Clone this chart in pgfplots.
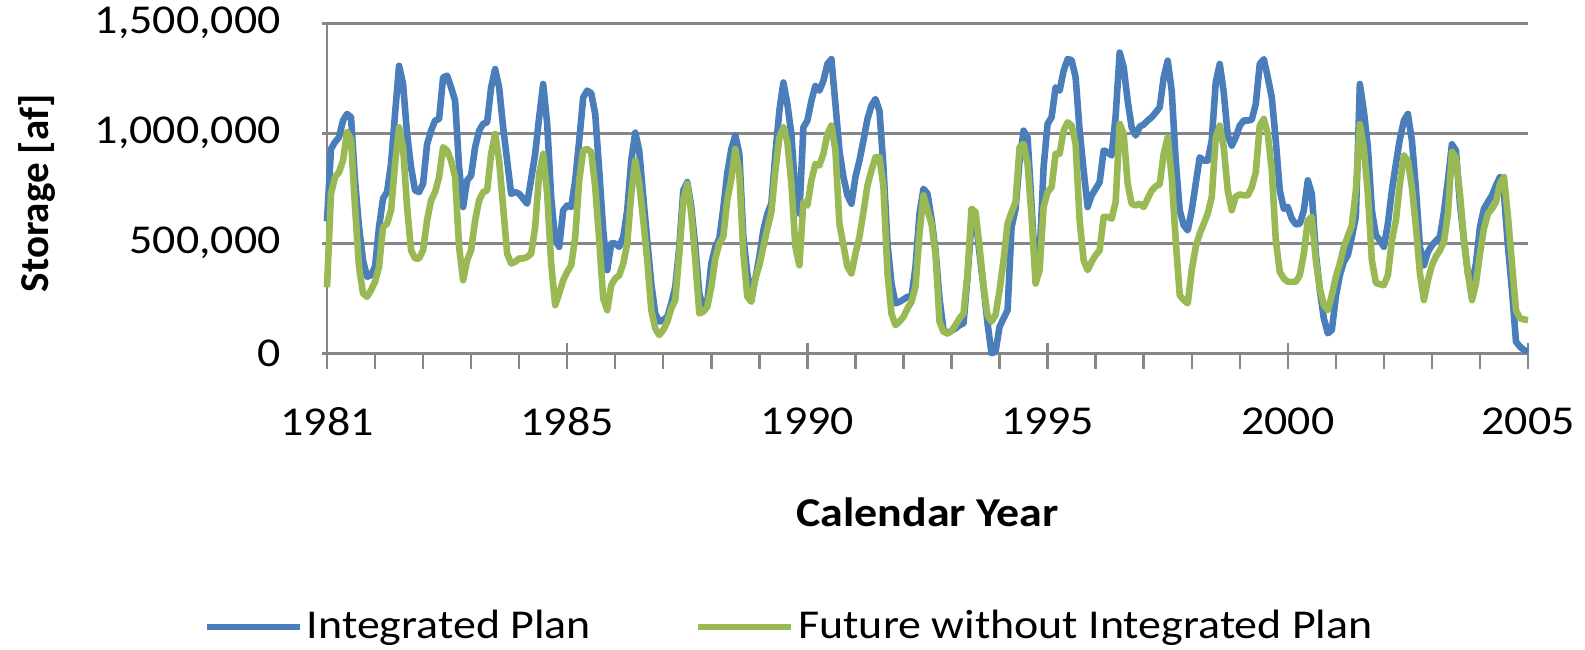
\documentclass[border=0pt]{standalone}
\usepackage{fontspec}
\setmainfont{Carlito}[FakeStretch=1.12]
\newfontfamily\ylabfont{Carlito}
\usepackage{pgfplots}
\pgfplotsset{compat=1.18}
\usepackage{pgfplotstable}
\definecolor{ipblue}{RGB}{74,126,187}
\definecolor{fwgreen}{RGB}{152,185,84}
\definecolor{gridgray}{RGB}{134,134,134}

% monthly storage [af], month 0 = start of 1981
\pgfplotstableread{
m ip fw
0 600000 300000
1 929000 725000
2 960000 801000
3 982000 823000
4 1058000 876000
5 1088000 1005000
6 1073000 973000
7 786000 665000
8 574000 393000
9 423000 272000
10 348000 257000
11 355000 287000
12 393000 325000
13 574000 393000
14 703000 574000
15 733000 589000
16 861000 650000
17 1088000 861000
18 1307000 1027000
19 1224000 937000
20 997000 665000
21 846000 468000
22 740000 431000
23 733000 431000
24 771000 468000
25 950000 604000
26 1012000 695000
27 1058000 733000
28 1065000 801000
29 1254000 937000
30 1262000 922000
31 1209000 876000
32 1148000 801000
33 846000 484000
34 665000 332000
35 786000 423000
36 808000 468000
37 937000 604000
38 1012000 695000
39 1043000 733000
40 1050000 740000
41 1209000 907000
42 1292000 997000
43 1209000 876000
44 1027000 665000
45 876000 453000
46 725000 408000
47 733000 416000
48 725000 431000
49 703000 431000
50 680000 438000
51 793000 453000
52 907000 574000
53 1073000 816000
54 1224000 907000
55 1043000 725000
56 710000 408000
57 514000 219000
58 484000 272000
59 650000 332000
60 672000 370000
61 665000 400000
62 786000 529000
63 967000 786000
64 1163000 922000
65 1194000 929000
66 1182000 914000
67 1088000 755000
68 831000 514000
69 559000 249000
70 378000 196000
71 499000 310000
72 499000 340000
73 484000 355000
74 529000 408000
75 650000 499000
76 876000 725000
77 1003000 876000
78 922000 771000
79 710000 604000
80 514000 423000
81 317000 196000
82 181000 113000
83 144000 83000
84 151000 106000
85 166000 144000
86 227000 204000
87 302000 242000
88 484000 453000
89 740000 695000
90 778000 771000
91 665000 635000
92 484000 423000
93 272000 181000
94 204000 189000
95 234000 212000
96 408000 302000
97 484000 431000
98 521000 499000
99 660000 530000
100 820000 700000
101 929000 793000
102 990000 929000
103 907000 816000
104 529000 453000
105 363000 257000
106 257000 234000
107 340000 340000
108 438000 400000
109 559000 484000
110 635000 567000
111 680000 642000
112 907000 831000
113 1103000 982000
114 1231000 1027000
115 1133000 960000
116 997000 771000
117 725000 484000
118 635000 400000
119 1027000 688000
120 1058000 672000
121 1148000 786000
122 1216000 861000
123 1194000 854000
124 1239000 907000
125 1315000 997000
126 1337000 1035000
127 1133000 922000
128 922000 589000
129 801000 491000
130 718000 393000
131 680000 363000
132 801000 453000
133 876000 529000
134 967000 642000
135 1065000 763000
136 1126000 831000
137 1156000 891000
138 1103000 891000
139 846000 755000
140 499000 363000
141 317000 181000
142 227000 128000
143 234000 144000
144 245000 166000
145 257000 204000
146 257000 234000
147 393000 302000
148 635000 544000
149 748000 718000
150 725000 650000
151 612000 589000
152 468000 453000
153 249000 144000
154 106000 98000
155 91000 91000
156 103000 101000
157 113000 128000
158 128000 159000
159 136000 181000
160 348000 363000
161 604000 657000
162 620000 642000
163 453000 484000
164 302000 302000
165 136000 174000
166 0 144000
167 8000 174000
168 121000 287000
169 159000 423000
170 196000 589000
171 574000 642000
172 657000 688000
173 876000 937000
174 1012000 952000
175 982000 861000
176 672000 620000
177 355000 317000
178 438000 378000
179 846000 665000
180 1043000 733000
181 1073000 755000
182 1209000 907000
183 1194000 907000
184 1284000 1012000
185 1337000 1050000
186 1333000 1035000
187 1254000 952000
188 1012000 604000
189 831000 423000
190 665000 378000
191 718000 416000
192 748000 446000
193 778000 468000
194 922000 620000
195 914000 620000
196 899000 612000
197 1080000 688000
198 1367000 1043000
199 1300000 997000
200 1148000 771000
201 1027000 680000
202 990000 672000
203 1030000 680000
204 1040000 665000
205 1058000 703000
206 1073000 740000
207 1095000 759000
208 1118000 768000
209 1254000 907000
210 1330000 982000
211 1194000 801000
212 876000 514000
213 650000 264000
214 582000 242000
215 559000 227000
216 650000 378000
217 771000 484000
218 891000 544000
219 876000 589000
220 876000 635000
221 967000 710000
222 1231000 982000
223 1315000 1035000
224 1186000 937000
225 990000 740000
226 944000 650000
227 982000 713000
228 1035000 722000
229 1058000 718000
230 1058000 718000
231 1062000 755000
232 1133000 823000
233 1315000 1035000
234 1337000 1065000
235 1254000 997000
236 1163000 831000
237 967000 514000
238 740000 370000
239 657000 340000
240 665000 325000
241 612000 325000
242 586000 325000
243 589000 355000
244 650000 453000
245 786000 604000
246 725000 620000
247 453000 423000
248 287000 295000
249 159000 219000
250 91000 196000
251 106000 264000
252 257000 348000
253 355000 408000
254 416000 484000
255 446000 532000
256 529000 582000
257 620000 740000
258 1224000 1042000
259 1100000 930000
260 937000 725000
261 650000 423000
262 536000 320000
263 514000 314000
264 484000 310000
265 589000 355000
266 740000 514000
267 861000 604000
268 975000 771000
269 1058000 899000
270 1088000 876000
271 967000 755000
272 748000 574000
273 484000 363000
274 400000 242000
275 461000 332000
276 491000 400000
277 511000 441000
278 529000 468000
279 642000 506000
280 786000 635000
281 950000 915000
282 922000 891000
283 680000 725000
284 514000 514000
285 363000 363000
286 317000 242000
287 408000 317000
288 574000 453000
289 657000 567000
290 688000 635000
291 718000 657000
292 763000 688000
293 801000 771000
294 725000 801000
295 484000 620000
296 287000 408000
297 53000 196000
298 30000 159000
299 15000 154000
300 8000 151000
}\storage

\begin{document}
\fontsize{20.5}{24}\selectfont
\begin{tikzpicture}
\useasboundingbox (-163.5pt,-147.85pt) rectangle (629pt,176.65pt);
\begin{axis}[
    at={(0,0)}, anchor=south west,
    scale only axis, width=600.5pt, height=165pt,
    xmin=0, xmax=300, ymin=0, ymax=1500000,
    clip=false,
    axis x line*=bottom, axis y line*=left,
    axis line style={draw=gridgray, line width=1.2pt, -},
    tick style={gridgray, line width=1.2pt},
    tick align=outside,
    major tick length=13pt, minor tick length=8pt,
    every major x tick/.append style={yshift=5pt},
    every major y tick/.append style={xshift=10.5pt},
    xtick={0,60,...,300},
    xticklabels={1981,1985,1990,1995,2000,2005},
    minor xtick={12,24,...,288},
    ytick={0,500000,1000000,1500000},
    scaled y ticks=false,
    /pgf/number format/assume math mode=true,
    yticklabel style={/pgf/number format/fixed, /pgf/number format/1000 sep={,}, anchor=east, inner sep=0pt, xshift=-10pt},
    xticklabel style={anchor=center, inner sep=0pt, yshift=-21pt},
    ymajorgrids,
    grid style={gridgray, line width=1.2pt},
    xlabel={\textbf{Calendar Year}},
    xlabel style={at={(axis description cs:0.5,-0.48242)}, anchor=center},
    ylabel={\ylabfont\bfseries Storage [af]},
    ylabel style={at={(axis description cs:-0.24105,0.4848)}, anchor=center},
    legend style={at={(axis description cs:0.38551,-0.8297)}, anchor=center,
        draw=none, fill=none, legend columns=2,
        /tikz/every even column/.append style={column sep=50pt}},
    legend image code/.code={\draw[#1] (0pt,0pt) -- (46.5pt,0pt);},
]
\addplot[ipblue, line width=3.3pt, line join=round] table[x=m, y=ip]{\storage};
\addlegendentry{Integrated Plan}
\addplot[fwgreen, line width=3.3pt, line join=round] table[x=m, y=fw]{\storage};
\addlegendentry{Future without Integrated Plan}
\end{axis}
\end{tikzpicture}
\end{document}
